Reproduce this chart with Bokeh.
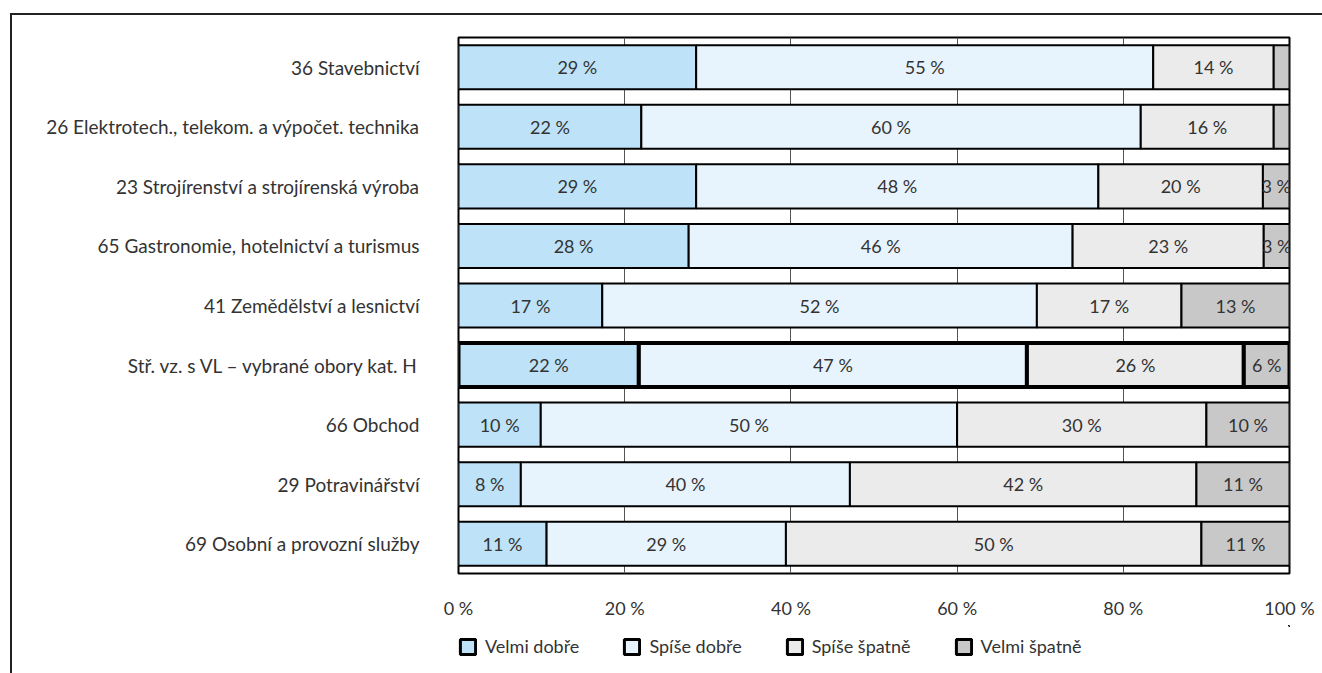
from bokeh.plotting import figure
from bokeh.layouts import column
from bokeh.models import (ColumnDataSource, FactorRange, Legend, LegendItem,
                          FixedTicker, CustomJSTickFormatter)
from bokeh.core.properties import value
from bokeh.embed import file_html
from bokeh.resources import INLINE

categories = [
    "36 Stavebnictví",
    "26 Elektrotech., telekom. a výpočet. technika",
    "23 Strojírenství a strojírenská výroba",
    "65 Gastronomie, hotelnictví a turismus",
    "41 Zemědělství a lesnictví",
    "Stř. vz. s VL – vybrané obory kat. H",
    "66 Obchod",
    "29 Potravinářství",
    "69 Osobní a provozní služby",
]
highlight = "Stř. vz. s VL – vybrané obory kat. H"

series_names = ["Velmi dobře", "Spíše dobře", "Spíše špatně", "Velmi špatně"]
velmi_dobre = [28.6, 22.0, 28.6, 27.7, 17.3, 21.7, 9.9, 7.5, 10.6]
spise_dobre = [55.0, 60.1, 48.4, 46.2, 52.3, 46.7, 50.1, 39.6, 28.8]
spise_spatne = [14.5, 16.0, 19.8, 23.0, 17.4, 26.1, 30.0, 41.7, 50.0]
velmi_spatne = [1.9, 1.9, 3.2, 3.1, 13.0, 5.5, 10.0, 11.2, 10.6]
colors = ["#bee3f8", "#e8f4fd", "#ebebeb", "#c8c8c8"]
x_ticks = [0, 20, 40, 60, 80, 100]

FONT = "Lato"
TXT = "#333333"
W = 1310

series = [velmi_dobre, spise_dobre, spise_spatne, velmi_spatne]

p = figure(width=W, height=610, output_backend="svg", toolbar_location=None,
           y_range=FactorRange(*reversed(categories)), x_range=(0, 100),
           min_border_left=446, min_border_right=33, min_border_top=22,
           min_border_bottom=52)

p.background_fill_color = "white"
p.outline_line_color = "black"
p.outline_line_width = 2

p.ygrid.grid_line_color = None
p.xgrid.ticker = FixedTicker(ticks=x_ticks)
p.xgrid.grid_line_color = "#555555"
p.xgrid.grid_line_width = 1

p.xaxis.ticker = FixedTicker(ticks=x_ticks)
p.xaxis.formatter = CustomJSTickFormatter(code="return tick + ' %';")
p.xaxis.axis_line_color = None
p.xaxis.major_tick_line_color = None
p.xaxis.minor_tick_line_color = None
p.xaxis.major_label_standoff = 17
p.xaxis.major_label_text_font = FONT
p.xaxis.major_label_text_font_size = "18px"
p.xaxis.major_label_text_color = TXT

p.yaxis.axis_line_color = None
p.yaxis.major_tick_line_color = None
p.yaxis.minor_tick_line_color = None
p.yaxis.major_label_standoff = 33
p.yaxis.major_label_text_font = FONT
p.yaxis.major_label_text_font_size = "19px"
p.yaxis.major_label_text_color = TXT

left = [0.0] * len(categories)
for name, vals, col in zip(series_names, series, colors):
    right = [l + v for l, v in zip(left, vals)]
    mid = [(l + r) / 2 for l, r in zip(left, right)]
    labels = [f"{round(v)} %" if v >= 2.5 else "" for v in vals]
    lw = [4 if c == highlight else 2 for c in categories]
    src = ColumnDataSource(dict(y=categories, left=left, right=right, mid=mid,
                                label=labels, lw=lw))
    p.hbar(y="y", left="left", right="right", height=0.74, source=src,
           fill_color=col, line_color="black", line_width="lw")
    p.text(x="mid", y="y", text="label", source=src, text_align="center",
           text_baseline="middle", text_font=value(FONT),
           text_font_size="18px", text_color=TXT)
    left = right

# legend strip below the chart (its frame is aligned with the chart's frame)
p2 = figure(width=W, height=48, output_backend="svg", toolbar_location=None,
            x_range=(0, 1), y_range=(0, 1), min_border=0)
p2.axis.visible = False
p2.grid.grid_line_color = None
p2.outline_line_color = None
swatches = []
for col in colors:
    # swatch renderer lying outside the strip's visible range
    r = p2.hbar(y=[5], left=[5], right=[6], height=0.5, fill_color=col,
                line_color="black", line_width=3)
    swatches.append(r)
legend = Legend(items=[LegendItem(label=n, renderers=[r])
                       for n, r in zip(series_names, swatches)],
                orientation="horizontal", location=(0, 16),
                glyph_width=19, glyph_height=19, label_standoff=8,
                spacing=43, padding=3, margin=0,
                label_text_font=FONT, label_text_font_size="18px",
                label_text_color=TXT, border_line_color=None,
                background_fill_alpha=0)
p2.add_layout(legend, "center")

layout = column(p, p2, spacing=0)
layout.margin = (13, 0, 0, 10)
layout.styles = {"border-top": "2px solid #222222",
                 "border-left": "2px solid #222222"}
open("out.html", "w").write(file_html(layout, INLINE))
